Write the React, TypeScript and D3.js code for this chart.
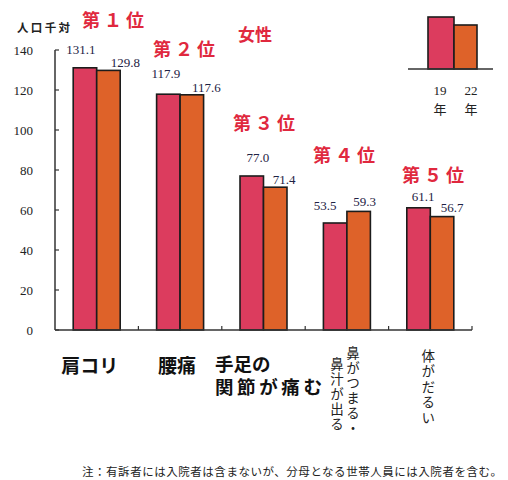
import React from "react";
import * as d3 from "d3";

const categories = ["肩コリ", "腰痛", "手足の関節が痛む", "鼻がつまる・鼻汁が出る", "体がだるい"];
const seriesNames = ["19年", "22年"];
const values19 = [131.1, 117.9, 77.0, 53.5, 61.1];
const values22 = [129.8, 117.6, 71.4, 59.3, 56.7];
const yTicks = [0, 20, 40, 60, 80, 100, 120, 140];
const ranks = ["第１位", "第２位", "第３位", "第４位", "第５位"];
const title = "女性";
const unitLabel = "人口千対";
const note = "注：有訴者には入院者は含まないが、分母となる世帯人員には入院者を含む。";

// layout (not data)
const RED = "#dc3c5e";
const ORANGE = "#de6229";
const RANK_RED = "#e0283e";
const labelDx = [
  [-4, -2.5, 6, -10, 4.5],
  [17, 14.5, 9, 6, 10],
];
const labelDy = [
  [-14, -16, -14, -13, -7],
  [-3, -3, -3, -5, -5],
];
const rankPos = [
  [82, 27],
  [153, 56],
  [233, 130],
  [313, 162],
  [402, 182],
];

export default function App() {
  const W = 508, H = 480;
  const x0 = d3.scaleBand<string>().domain(categories).range([55, 472]).paddingInner(0).paddingOuter(0);
  const x1 = d3.scaleBand<string>().domain(seriesNames).range([0, x0.bandwidth()]).paddingInner(0).paddingOuter(0.775);
  const y = d3.scaleLinear().domain([0, 140]).range([330, 50]);
  const series = [values19, values22];
  const colors = [RED, ORANGE];
  const serif = "'Liberation Serif', 'DejaVu Serif', serif";
  const sans = "'Noto Sans CJK JP', 'Noto Sans', sans-serif";

  const vertical = (text: string, cx: number, top: number, size: number, spacing: number) => (
    <text
      x={cx}
      y={top}
      fontSize={size}
      fontFamily={sans}
      fill="#222"
      style={{ writingMode: "vertical-rl", letterSpacing: `${spacing}px` } as React.CSSProperties}
    >
      {text}
    </text>
  );

  const g3 = categories[2];
  return (
    <svg width={W} height={H} style={{ position: "absolute", left: 0, top: 0, background: "#fff" }}>
      <rect width={W} height={H} fill="#fff" />
      {/* unit */}
      <text x={17} y={32} fontSize={11.5} fontFamily={sans} fontWeight={700} fill="#222" textLength={53}>{unitLabel}</text>
      {/* title */}
      <text x={238} y={41} fontSize={17} fontFamily={sans} fontWeight={700} fill={RANK_RED}>{title}</text>
      {/* ranks */}
      {ranks.map((r, i) => (
        <text key={r} x={rankPos[i][0]} y={rankPos[i][1]} fontSize={18} fontFamily={sans} fontWeight={700} fill={RANK_RED} textLength={62}>{r}</text>
      ))}
      {/* y ticks */}
      {yTicks.map((t) => (
        <g key={t}>
          <line x1={55} x2={59} y1={y(t)} y2={y(t)} stroke="#333" strokeWidth={1.2} />
          <text x={33} y={y(t)} dy="0.35em" textAnchor="end" fontSize={13} fontFamily={serif} fill="#222">{t}</text>
        </g>
      ))}
      <line x1={55} x2={55} y1={y(140)} y2={y(0)} stroke="#333" strokeWidth={1.5} />
      {/* bars */}
      {categories.map((c, ci) => (
        <g key={c}>
          {series.map((vals, si) => {
            const bx = (x0(c) ?? 0) + (x1(seriesNames[si]) ?? 0);
            const bw = x1.bandwidth();
            return (
              <g key={si}>
                <rect x={bx} y={y(vals[ci])} width={bw} height={y(0) - y(vals[ci])} fill={colors[si]} stroke="#1c1c1c" strokeWidth={1.6} />
                <text
                  x={bx + bw / 2 + labelDx[si][ci]}
                  y={y(vals[ci]) + labelDy[si][ci]}
                  textAnchor="middle"
                  fontSize={13}
                  fontFamily={serif}
                  fill="#1e2244"
                >
                  {vals[ci].toFixed(1)}
                </text>
              </g>
            );
          })}
        </g>
      ))}
      {/* x axis */}
      <line x1={55} x2={472} y1={y(0)} y2={y(0)} stroke="#333" strokeWidth={1.5} />
      {categories.map((c, i) =>
        i > 0 ? <line key={c} x1={x0(c)} x2={x0(c)} y1={y(0)} y2={y(0) - 4} stroke="#333" strokeWidth={1.2} /> : null
      )}
      <line x1={472} x2={472} y1={y(0)} y2={y(0) - 4} stroke="#333" strokeWidth={1.2} />
      {/* category labels */}
      <text x={(x0(categories[0]) ?? 0) + x0.bandwidth() / 2 - 7} y={373} textAnchor="middle" fontSize={19} fontWeight={700} fontFamily={sans} fill="#111">{categories[0]}</text>
      <text x={(x0(categories[1]) ?? 0) + x0.bandwidth() / 2 - 3} y={373} textAnchor="middle" fontSize={19} fontWeight={700} fontFamily={sans} fill="#111">{categories[1]}</text>
      <text fontSize={18.5} fontWeight={700} fontFamily={sans} fill="#111">
        <tspan x={215} y={371}>{g3.slice(0, 3)}</tspan>
        <tspan x={215} y={393.5} textLength={107}>{g3.slice(3)}</tspan>
      </text>
      {vertical(categories[3].slice(0, 6), (x0(categories[3]) ?? 0) + x0.bandwidth() / 2 + 6, 346, 13.5, 1.5)}
      {vertical(categories[3].slice(6), (x0(categories[3]) ?? 0) + x0.bandwidth() / 2 - 10, 357, 13.5, 1.5)}
      {vertical(categories[4], (x0(categories[4]) ?? 0) + x0.bandwidth() / 2 - 2, 349, 13.5, 2)}
      {/* note */}
      <text x={82} y={476} fontSize={11.5} fontFamily={sans} fill="#222" textLength={420}>{note}</text>
      {/* legend */}
      <rect x={428} y={17} width={26} height={52} fill={RED} stroke="#1c1c1c" strokeWidth={1.6} />
      <rect x={454} y={25} width={23} height={44} fill={ORANGE} stroke="#1c1c1c" strokeWidth={1.6} />
      <line x1={408} x2={493} y1={69} y2={69} stroke="#333" strokeWidth={1.3} />
      <text x={440} y={95} textAnchor="middle" fontSize={13} fontFamily={serif} fill="#222">19</text>
      <text x={471} y={95} textAnchor="middle" fontSize={13} fontFamily={serif} fill="#222">22</text>
      <text x={440} y={114} textAnchor="middle" fontSize={13} fontFamily={sans} fill="#222">年</text>
      <text x={471} y={114} textAnchor="middle" fontSize={13} fontFamily={sans} fill="#222">年</text>
    </svg>
  );
}
